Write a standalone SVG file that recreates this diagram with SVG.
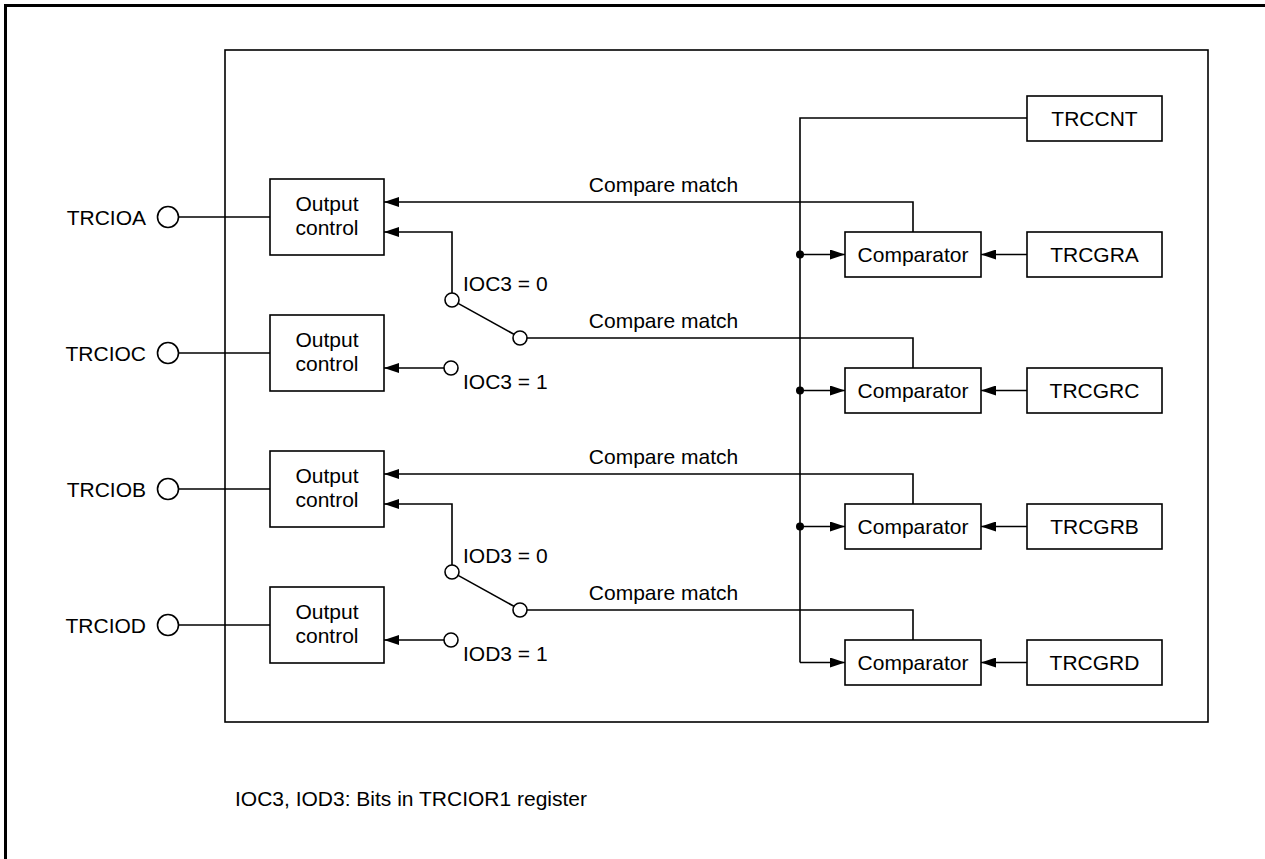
<svg xmlns="http://www.w3.org/2000/svg" width="1265" height="859" viewBox="0 0 1265 859">
<style>
  .box { fill: #fff; stroke: #000; stroke-width: 1.6; }
  .ln { fill: none; stroke: #000; stroke-width: 1.6; }
  .arr { fill: none; stroke: #000; stroke-width: 1.6; marker-end: url(#ah); }
  .pin { fill: #fff; stroke: #000; stroke-width: 1.6; }
  .dot { fill: #000; }
  text { font-family: "Liberation Sans", Arial, sans-serif; font-size: 21px; fill: #000; }
  .c { text-anchor: middle; }
  .e { text-anchor: end; }
</style>
<defs>
  <marker id="ah" markerUnits="userSpaceOnUse" markerWidth="15" markerHeight="10" refX="15" refY="5" orient="auto">
    <path d="M0,0 L15,5 L0,10 Z" fill="#000"/>
  </marker>
</defs>
<rect width="1265" height="859" fill="#fff"/>
<!-- outer frame -->
<path d="M5.5,859 V5.5 H1265" fill="none" stroke="#000" stroke-width="3"/>
<!-- inner box -->
<rect x="225" y="50" width="983" height="672" fill="none" stroke="#000" stroke-width="1.6"/>

<g id="connectors">
  <!-- pin lines -->
  <path class="ln" d="M179,217 H270"/>
  <path class="ln" d="M179,353 H270"/>
  <path class="ln" d="M179,489 H270"/>
  <path class="ln" d="M179,625 H270"/>
  <!-- compare match A -->
  <path class="arr" d="M913,232 V202 H384"/>
  <!-- switch IOC3=0 -->
  <path class="arr" d="M452,293 V232 H384"/>
  <path class="ln" d="M458.1,303.4 L513.9,334.3"/>
  <path class="ln" d="M527,338 H913 V368"/>
  <!-- IOC3=1 -->
  <path class="arr" d="M444,368 H384"/>
  <!-- compare match B -->
  <path class="arr" d="M913,504 V474 H384"/>
  <!-- switch IOD3=0 -->
  <path class="arr" d="M452,565 V504 H384"/>
  <path class="ln" d="M458.1,575.4 L513.9,606.3"/>
  <path class="ln" d="M527,610 H913 V640"/>
  <!-- IOD3=1 -->
  <path class="arr" d="M444,640 H384"/>
  <!-- TRCCNT bus -->
  <path class="ln" d="M1027,118 H800 V662.5"/>
  <path class="arr" d="M800,662.5 H845"/>
  <path class="arr" d="M800,254.5 H845"/>
  <path class="arr" d="M800,390.5 H845"/>
  <path class="arr" d="M800,526.5 H845"/>
  <circle class="dot" cx="800" cy="254.5" r="4"/>
  <circle class="dot" cx="800" cy="390.5" r="4"/>
  <circle class="dot" cx="800" cy="526.5" r="4"/>
  <!-- register to comparator -->
  <path class="arr" d="M1027,254.5 H981"/>
  <path class="arr" d="M1027,390.5 H981"/>
  <path class="arr" d="M1027,526.5 H981"/>
  <path class="arr" d="M1027,662.5 H981"/>
  <!-- switch circles -->
  <circle class="pin" cx="452" cy="300" r="7"/>
  <circle class="pin" cx="520" cy="338" r="7"/>
  <circle class="pin" cx="451" cy="368" r="7"/>
  <circle class="pin" cx="452" cy="572" r="7"/>
  <circle class="pin" cx="520" cy="610" r="7"/>
  <circle class="pin" cx="451" cy="640" r="7"/>
  <!-- labels -->
  <text class="c" x="663.5" y="192">Compare match</text>
  <text class="c" x="663.5" y="328">Compare match</text>
  <text class="c" x="663.5" y="464">Compare match</text>
  <text class="c" x="663.5" y="600">Compare match</text>
  <text x="463" y="291">IOC3 = 0</text>
  <text x="463" y="389">IOC3 = 1</text>
  <text x="463" y="563">IOD3 = 0</text>
  <text x="463" y="661">IOD3 = 1</text>
</g>

<g id="pin-TRCIOA"><circle class="pin" cx="168" cy="217" r="10.5"/><text class="e" x="146" y="224.5">TRCIOA</text></g>
<g id="pin-TRCIOC"><circle class="pin" cx="168" cy="353" r="10.5"/><text class="e" x="146" y="360.5">TRCIOC</text></g>
<g id="pin-TRCIOB"><circle class="pin" cx="168" cy="489" r="10.5"/><text class="e" x="146" y="496.5">TRCIOB</text></g>
<g id="pin-TRCIOD"><circle class="pin" cx="168" cy="625" r="10.5"/><text class="e" x="146" y="632.5">TRCIOD</text></g>

<g id="out-A"><rect class="box" x="270" y="179" width="114" height="76"/><text class="c" x="327" y="211">Output</text><text class="c" x="327" y="235">control</text></g>
<g id="out-C"><rect class="box" x="270" y="315" width="114" height="76"/><text class="c" x="327" y="347">Output</text><text class="c" x="327" y="371">control</text></g>
<g id="out-B"><rect class="box" x="270" y="451" width="114" height="76"/><text class="c" x="327" y="483">Output</text><text class="c" x="327" y="507">control</text></g>
<g id="out-D"><rect class="box" x="270" y="587" width="114" height="76"/><text class="c" x="327" y="619">Output</text><text class="c" x="327" y="643">control</text></g>

<g id="TRCCNT"><rect class="box" x="1027" y="96" width="135" height="45"/><text class="c" x="1094.5" y="126">TRCCNT</text></g>

<g id="cmp-A"><rect class="box" x="845" y="232" width="136" height="45"/><text class="c" x="913" y="262">Comparator</text></g>
<g id="cmp-C"><rect class="box" x="845" y="368" width="136" height="45"/><text class="c" x="913" y="398">Comparator</text></g>
<g id="cmp-B"><rect class="box" x="845" y="504" width="136" height="45"/><text class="c" x="913" y="534">Comparator</text></g>
<g id="cmp-D"><rect class="box" x="845" y="640" width="136" height="45"/><text class="c" x="913" y="670">Comparator</text></g>

<g id="TRCGRA"><rect class="box" x="1027" y="232" width="135" height="45"/><text class="c" x="1094.5" y="262">TRCGRA</text></g>
<g id="TRCGRC"><rect class="box" x="1027" y="368" width="135" height="45"/><text class="c" x="1094.5" y="398">TRCGRC</text></g>
<g id="TRCGRB"><rect class="box" x="1027" y="504" width="135" height="45"/><text class="c" x="1094.5" y="534">TRCGRB</text></g>
<g id="TRCGRD"><rect class="box" x="1027" y="640" width="135" height="45"/><text class="c" x="1094.5" y="670">TRCGRD</text></g>

<text x="235" y="806">IOC3, IOD3: Bits in TRCIOR1 register</text>
</svg>
